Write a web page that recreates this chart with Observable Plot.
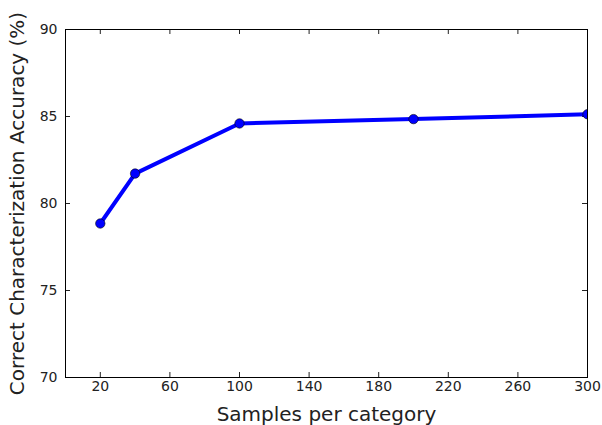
<!DOCTYPE html>
<html><head><meta charset="utf-8">
<script src="https://cdn.jsdelivr.net/npm/d3@7"></script>
<script src="https://cdn.jsdelivr.net/npm/@observablehq/plot@0.6"></script>
<style>body{margin:0;background:#fff}</style>
</head><body><div id="chart"></div>
<script>
const samples = [20, 40, 100, 200, 300];
const accuracy = [78.85, 81.72, 84.6, 84.85, 85.13];
const xTicks = [20, 60, 100, 140, 180, 220, 260, 300];
const yTicks = [70, 75, 80, 85, 90];
const xLabel = "Samples per category";
const yLabel = "Correct Characterization Accuracy (%)";

const data = samples.map((s, i) => ({samples: s, accuracy: accuracy[i]}));
const W = 602, H = 425, mt = 29, mr = 15, mb = 48, ml = 65;
const innerH = H - mt - mb, innerW = W - ml - mr;
const tick = 5;

const chart = Plot.plot({
  width: W, height: H,
  marginTop: mt, marginRight: mr, marginBottom: mb, marginLeft: ml,
  style: {fontFamily: "DejaVu Sans", fontSize: "14px", color: "#222", background: "#fff"},
  x: {domain: [0, 300]},
  y: {domain: [70, 90]},
  marks: [
    Plot.axisX({ticks: xTicks, tickSize: 0, tickPadding: 4, label: null, fontSize: 14}),
    Plot.axisY({ticks: yTicks, tickSize: 0, tickPadding: 8, label: null, fontSize: 14}),
    Plot.ruleX(xTicks, {insetTop: innerH - tick, stroke: "#222"}),
    Plot.ruleX(xTicks, {insetBottom: innerH - tick, stroke: "#222"}),
    Plot.ruleY(yTicks, {insetRight: innerW - tick, stroke: "#222"}),
    Plot.ruleY(yTicks, {insetLeft: innerW - tick, stroke: "#222"}),
    Plot.line(data, {x: "samples", y: "accuracy", stroke: "#0000ff", strokeWidth: 4, clip: true}),
    Plot.dot(data, {x: "samples", y: "accuracy", r: 4.7, fill: "#0000ff", stroke: "#000", strokeWidth: 0.6, clip: true}),
    Plot.frame({stroke: "#000"}),
    Plot.text([xLabel], {text: d => d, frameAnchor: "bottom", textAnchor: "middle", dy: 43.5, lineAnchor: "bottom", fontSize: 20, fill: "#222"}),
    Plot.text([yLabel], {text: d => d, frameAnchor: "left", textAnchor: "middle", dx: -48, rotate: -90, lineAnchor: "middle", fontSize: 20, fill: "#222"})
  ]
});
document.getElementById("chart").appendChild(chart);
</script>
</body></html>
